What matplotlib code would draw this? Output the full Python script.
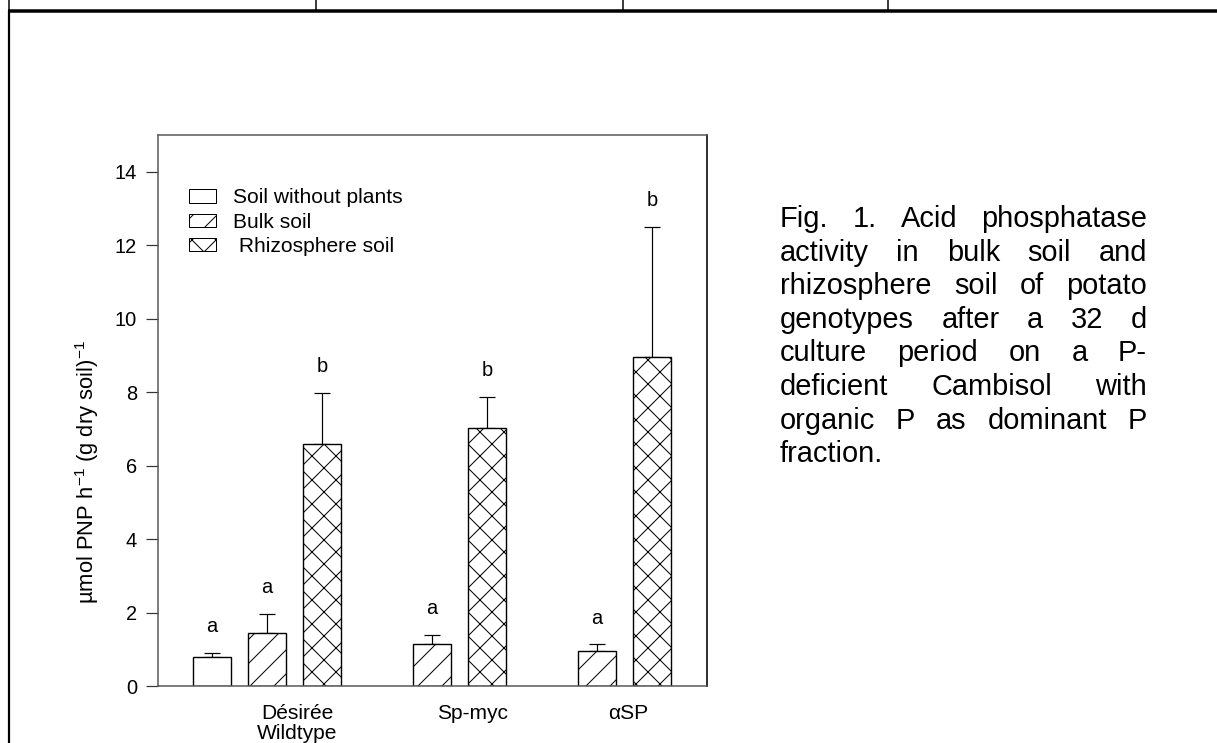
import matplotlib
matplotlib.use("Agg")
import matplotlib.pyplot as plt
from matplotlib.patches import Patch
from matplotlib.lines import Line2D

plt.rcParams['font.family'] = ['Liberation Sans', 'DejaVu Sans']
plt.rcParams['mathtext.fontset'] = 'custom'
plt.rcParams['mathtext.rm'] = 'Liberation Sans'
plt.rcParams['mathtext.it'] = 'Liberation Sans:italic'
plt.rcParams['hatch.linewidth'] = 1.0

# ---- data ----
genotypes = ["Désirée\nWildtype", "Sp-myc", "αSP"]
series_labels = ["Soil without plants", "Bulk soil", " Rhizosphere soil"]

no_plant_mean = [0.79]
no_plant_err = [0.11]
no_plant_sig = ["a"]

bulk_mean = [1.44, 1.15, 0.94]
bulk_err = [0.53, 0.23, 0.19]
bulk_sig = ["a", "a", "a"]

rhizo_mean = [6.60, 7.02, 8.95]
rhizo_err = [1.37, 0.84, 3.55]
rhizo_sig = ["b", "b", "b"]

y_ticks = [0, 2, 4, 6, 8, 10, 12, 14]
ylabel = r"µmol PNP h$^{-1}$ (g dry soil)$^{-1}$"
caption_lines = [
    "Fig. 1. Acid phosphatase",
    "activity in bulk soil and",
    "rhizosphere soil of potato",
    "genotypes after a 32 d",
    "culture period on a P-",
    "deficient Cambisol with",
    "organic P as dominant P",
    "fraction.",
]

# ---- layout ----
W, H, DPI = 1217, 743, 72
fig = plt.figure(figsize=(W / DPI, H / DPI), dpi=DPI)
ax_l, ax_r, ax_t, ax_b = 158, 707, 135, 686
ax = fig.add_axes([ax_l / W, (H - ax_b) / H, (ax_r - ax_l) / W, (ax_b - ax_t) / H])

no_plant_x = [0]
bulk_x = [1, 4, 7]
rhizo_x = [2, 5, 8]
label_x = [1.55, 4.73, 7.56]
bar_w = 0.69
edge_lw = 1.4

bar_kw = dict(width=bar_w, edgecolor="black", linewidth=edge_lw, zorder=2)
ax.bar(no_plant_x, no_plant_mean, facecolor="white", **bar_kw)
ax.bar(bulk_x, bulk_mean, facecolor="white", hatch="/", **bar_kw)
ax.bar(rhizo_x, rhizo_mean, facecolor="white", hatch="x", **bar_kw)

err_kw = dict(fmt="none", ecolor="black", elinewidth=1.2, capsize=8, capthick=1.2, zorder=1)
for xs, m, e in [(no_plant_x, no_plant_mean, no_plant_err),
                 (bulk_x, bulk_mean, bulk_err),
                 (rhizo_x, rhizo_mean, rhizo_err)]:
    ax.errorbar(xs, m, yerr=[[0] * len(e), e], **err_kw)

for xs, m, e, s in [(no_plant_x, no_plant_mean, no_plant_err, no_plant_sig),
                    (bulk_x, bulk_mean, bulk_err, bulk_sig),
                    (rhizo_x, rhizo_mean, rhizo_err, rhizo_sig)]:
    for xi, mi, ei, si in zip(xs, m, e, s):
        ax.text(xi, mi + ei + 0.72, si, ha="center", va="center", fontsize=20)

ax.set_xlim(-0.98, 9.0)
ax.set_ylim(0, 15)
ax.set_yticks(y_ticks)
ax.set_yticklabels([str(t) for t in y_ticks], fontsize=20)
ax.tick_params(axis="y", direction="out", length=12, width=1.2, pad=9, color="#333333")
ax.set_xticks([])
for lx, g in zip(label_x, genotypes):
    ax.text(lx, -0.5, g, ha="center", va="top", fontsize=21, linespacing=1.05)

for side in ["left", "top", "bottom"]:
    ax.spines[side].set_color("#555555")
    ax.spines[side].set_linewidth(1.5)
ax.spines["right"].set_color("black")
ax.spines["right"].set_linewidth(1.6)

ax.set_ylabel(ylabel, fontsize=22)
ax.yaxis.set_label_coords(-0.104, 0.388)

handles = [Patch(facecolor="white", edgecolor="black", linewidth=1.0),
           Patch(facecolor="white", edgecolor="black", linewidth=1.0, hatch="/"),
           Patch(facecolor="white", edgecolor="black", linewidth=1.0, hatch="x")]
ax.legend(handles, series_labels, loc="upper left", bbox_to_anchor=(0.0565, 0.903),
          frameon=False, fontsize=21, handlelength=1.29, handleheight=0.62,
          handletextpad=0.81, labelspacing=0.25, borderpad=0, borderaxespad=0)

# ---- justified caption ----
cap_left, cap_right, base0, line_step = 780, 1147, 227, 33.6
cap_fs = 29
renderer = fig.canvas.get_renderer()
space_w = (fig.text(0, 0, "a b", fontsize=cap_fs).get_window_extent(renderer).width
           - fig.text(0, 0, "ab", fontsize=cap_fs).get_window_extent(renderer).width)
for t in fig.texts[-2:]:
    t.remove()
for i, line in enumerate(caption_lines):
    words = line.split(" ")
    y = 1 - (base0 + i * line_step) / H
    texts = [fig.text(0, y, w, fontsize=cap_fs, va="baseline", ha="left") for w in words]
    widths = [t.get_window_extent(renderer).width for t in texts]
    if i == len(caption_lines) - 1 or len(words) == 1:
        gap = space_w
    else:
        gap = (cap_right - cap_left - sum(widths)) / (len(words) - 1)
    x = cap_left
    for t, w in zip(texts, widths):
        t.set_x(x / W)
        x += w + gap

# ---- surrounding table rules ----
def hline(y, x0, x1, lw):
    fig.add_artist(Line2D([x0 / W, x1 / W], [1 - y / H, 1 - y / H], color="black", lw=lw,
                          transform=fig.transFigure, solid_capstyle="butt"))

def vline(x, y0, y1, lw):
    fig.add_artist(Line2D([x / W, x / W], [1 - y0 / H, 1 - y1 / H], color="black", lw=lw,
                          transform=fig.transFigure, solid_capstyle="butt"))

hline(11, 8, W, 3.5)
for vx in [9, 316, 623, 888]:
    vline(vx, 0, 11, 1.5)
vline(9, 11, H, 2.2)

fig.savefig("out.png", dpi=DPI, facecolor="white")
